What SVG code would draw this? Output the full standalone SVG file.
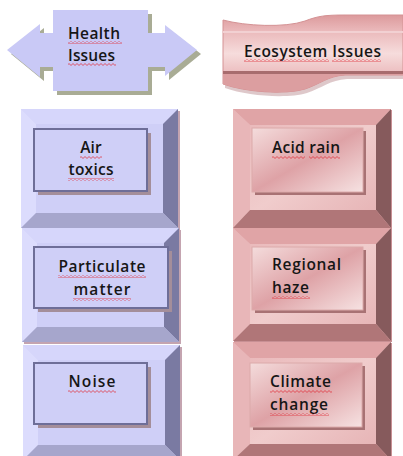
<svg xmlns="http://www.w3.org/2000/svg" width="403" height="456" viewBox="0 0 403 456">
<defs>
<style>
.t{font-family:"Open Sans","Liberation Sans",sans-serif;font-size:15.5px;font-weight:600;fill:#161616}
.ls{fill:#cfcff7;stroke:#6e6e98;stroke-width:2}
.lsh{fill:#a48e9a}
.rs{fill:url(#pinkgl);stroke:#dcaaaa;stroke-width:1}
.rsh{fill:#a87274}
.sq{fill:url(#squig)}
</style>
<pattern id="squig" width="4" height="3" patternUnits="userSpaceOnUse">
<path d="M-1,2.5 L1,0.5 L3,2.5 L5,0.5" fill="none" stroke="#e0303a" stroke-width="0.8"/>
</pattern>
<linearGradient id="pinkgl" x1="0" y1="0" x2="1" y2="1">
<stop offset="0" stop-color="#f4dcdc"/>
<stop offset="0.5" stop-color="#dea2a6"/>
<stop offset="1" stop-color="#f6e2e2"/>
</linearGradient>
<linearGradient id="pinkface" x1="0" y1="0" x2="1" y2="1">
<stop offset="0" stop-color="#e8b4b6"/>
<stop offset="0.5" stop-color="#f0cccc"/>
<stop offset="1" stop-color="#e4aeb0"/>
</linearGradient>
<linearGradient id="banner" x1="0" y1="0" x2="0" y2="1">
<stop offset="0" stop-color="#dc9a9c"/>
<stop offset="0.2" stop-color="#eab8ba"/>
<stop offset="0.5" stop-color="#f6dcdc"/>
<stop offset="0.8" stop-color="#eab8ba"/>
<stop offset="1" stop-color="#d89294"/>
</linearGradient>
<clipPath id="bclip">
<path d="M223,20 C245,26 285,28 305,21 C318,16 325,15 345,15 L403,15 L403,75 L345,75 C328,76 320,84 305,89 C285,95 245,92 223,84 Z"/>
</clipPath>
</defs>

<!-- Health Issues header -->
<g id="health-issues">
<polygon points="11,54 44,28 44,37 57,37 57,14 152,14 152,37 169,37 169,29 201,54 169,80 169,71 152,71 152,95 57,95 57,71 44,71 44,81" fill="#a9ac95"/>
<polygon points="7,50 40,24 40,33 53,33 53,10 148,10 148,33 165,33 165,25 197,50 165,76 165,67 148,67 148,91 53,91 53,67 40,67 40,77" fill="#c9c9f6"/>
<text class="t" x="68" y="39" textLength="52" lengthAdjust="spacing">Health</text>
<text class="t" x="68" y="61" textLength="47" lengthAdjust="spacing">Issues</text>
<rect class="sq" x="68" y="41" width="54" height="3"/>
<rect class="sq" x="68" y="63" width="48" height="3"/>
</g>

<!-- Ecosystem Issues header -->
<g id="ecosystem-issues">
<path d="M225,24 C247,30 287,32 307,25 C320,20 327,19 347,19 L403,19 L403,79 L347,79 C330,80 322,88 307,93 C287,99 247,96 225,88 Z" fill="#c8a4a6" opacity="0.6"/>
<path d="M223,20 C245,26 285,28 305,21 C318,16 325,15 345,15 L403,15 L403,75 L345,75 C328,76 320,84 305,89 C285,95 245,92 223,84 Z" fill="url(#banner)" stroke="#d49294" stroke-width="1"/>
<g clip-path="url(#bclip)">
<rect x="223" y="31" width="180" height="2" fill="#f2d0d2"/>
<rect x="223" y="71" width="180" height="3" fill="#a86c6e"/>
<rect x="223" y="74" width="180" height="20" fill="#dc9ea0"/>
</g>
<text class="t" x="244" y="57" textLength="137" lengthAdjust="spacing">Ecosystem Issues</text>
<rect class="sq" x="244" y="59" width="85" height="3"/>
<rect class="sq" x="332" y="59" width="49" height="3"/>
</g>

<!-- Left column -->
<g id="air-toxics">
<rect x="23" y="111" width="157" height="119" fill="#c4a4b0"/>
<rect x="21" y="109" width="157" height="119" fill="#cfcff7"/>
<polygon points="21,109 178,109 163,124 36,124" fill="#d6d6fb"/>
<polygon points="21,109 36,124 36,213 21,228" fill="#dcdcfd"/>
<polygon points="178,109 178,228 163,213 163,124" fill="#7a7aa2"/>
<polygon points="21,228 36,213 163,213 178,228" fill="#a6a6cc"/>
<rect class="lsh" x="38" y="133" width="113" height="62"/>
<rect class="ls" x="34" y="129" width="113" height="62"/>
<text class="t" x="91" y="153" text-anchor="middle">Air</text>
<text class="t" x="91" y="175" text-anchor="middle" textLength="45" lengthAdjust="spacing">toxics</text>
<rect class="sq" x="80" y="156" width="22" height="3"/>
<rect class="sq" x="68" y="178" width="46" height="3"/>
</g>

<g id="particulate-matter">
<rect x="24" y="230" width="157" height="114" fill="#c4a4b0"/>
<rect x="22" y="228" width="157" height="114" fill="#cfcff7"/>
<polygon points="22,228 179,228 164,243 37,243" fill="#d6d6fb"/>
<polygon points="22,228 37,243 37,327 22,342" fill="#dcdcfd"/>
<polygon points="179,228 179,342 164,327 164,243" fill="#7a7aa2"/>
<polygon points="22,342 37,327 164,327 179,342" fill="#a6a6cc"/>
<rect class="lsh" x="38" y="251" width="134" height="61"/>
<rect class="ls" x="34" y="247" width="134" height="61"/>
<text class="t" x="102" y="272" text-anchor="middle" textLength="87" lengthAdjust="spacing">Particulate</text>
<text class="t" x="102" y="295" text-anchor="middle" textLength="57" lengthAdjust="spacing">matter</text>
<rect class="sq" x="58" y="275" width="88" height="3"/>
<rect class="sq" x="73" y="298" width="58" height="3"/>
</g>

<g id="noise">
<rect x="25" y="347" width="157" height="115" fill="#c4a4b0"/>
<rect x="23" y="345" width="157" height="115" fill="#cfcff7"/>
<polygon points="23,345 180,345 165,360 38,360" fill="#d6d6fb"/>
<polygon points="23,345 38,360 38,445 23,460" fill="#dcdcfd"/>
<polygon points="180,345 180,460 165,445 165,360" fill="#7a7aa2"/>
<polygon points="23,460 38,445 165,445 180,460" fill="#a6a6cc"/>
<rect class="lsh" x="38" y="367" width="113" height="61"/>
<rect class="ls" x="34" y="363" width="113" height="61"/>
<text class="t" x="92" y="387" text-anchor="middle" textLength="47" lengthAdjust="spacing">Noise</text>
<rect class="sq" x="68" y="390" width="48" height="3"/>
</g>

<!-- Right column -->
<g id="acid-rain">
<rect x="234" y="110" width="158" height="119" fill="#c89094"/>
<rect x="233" y="109" width="158" height="119" fill="url(#pinkface)"/>
<polygon points="233,109 391,109 376,125 250,125" fill="#e0a4a6"/>
<polygon points="233,109 250,125 250,210 233,228" fill="#e8b6b8"/>
<polygon points="391,109 391,228 376,210 376,125" fill="#865a5c"/>
<polygon points="233,228 250,210 376,210 391,228" fill="#b07678"/>
<rect class="rsh" x="255" y="131" width="111" height="64"/>
<rect class="rs" x="252" y="128" width="111" height="64"/>
<text class="t" x="272" y="153" textLength="68" lengthAdjust="spacing">Acid rain</text>
<rect class="sq" x="272" y="156" width="33" height="3"/>
<rect class="sq" x="309" y="156" width="31" height="3"/>
</g>

<g id="regional-haze">
<rect x="234" y="229" width="158" height="113" fill="#c89094"/>
<rect x="233" y="228" width="158" height="113" fill="url(#pinkface)"/>
<polygon points="233,228 391,228 376,244 250,244" fill="#e0a4a6"/>
<polygon points="233,228 250,244 250,324 233,341" fill="#e8b6b8"/>
<polygon points="391,228 391,341 376,324 376,244" fill="#865a5c"/>
<polygon points="233,341 250,324 376,324 391,341" fill="#b07678"/>
<rect class="rsh" x="255" y="250" width="111" height="63"/>
<rect class="rs" x="252" y="247" width="111" height="63"/>
<text class="t" x="272" y="270" textLength="69" lengthAdjust="spacing">Regional</text>
<text class="t" x="272" y="293" textLength="37" lengthAdjust="spacing">haze</text>
<rect class="sq" x="272" y="296" width="38" height="3"/>
</g>

<g id="climate-change">
<rect x="234" y="343" width="158" height="118" fill="#c89094"/>
<rect x="233" y="342" width="158" height="118" fill="url(#pinkface)"/>
<polygon points="233,342 391,342 376,358 250,358" fill="#e0a4a6"/>
<polygon points="233,342 250,358 250,444 233,460" fill="#e8b6b8"/>
<polygon points="391,342 391,460 376,444 376,358" fill="#865a5c"/>
<polygon points="233,460 250,444 376,444 391,460" fill="#b07678"/>
<rect class="rsh" x="253" y="366" width="112" height="64"/>
<rect class="rs" x="250" y="363" width="112" height="64"/>
<text class="t" x="270" y="387" textLength="61" lengthAdjust="spacing">Climate</text>
<text class="t" x="270" y="410" textLength="58" lengthAdjust="spacing">change</text>
<rect class="sq" x="270" y="390" width="62" height="3"/>
<rect class="sq" x="270" y="413" width="59" height="3"/>
</g>

<g id="connectors"></g>
</svg>
